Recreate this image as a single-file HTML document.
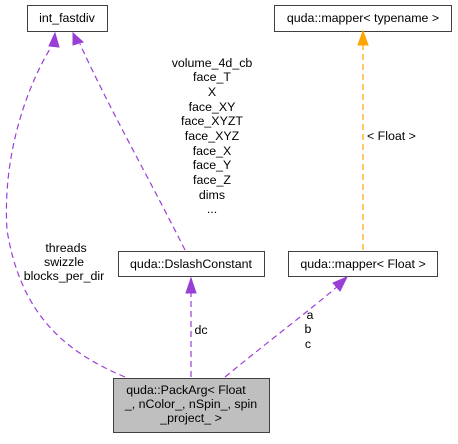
<!DOCTYPE html>
<html><head><style>
body{margin:0;background:#fff;width:458px;height:439px;overflow:hidden;font-family:"Liberation Sans",sans-serif}
</style></head><body>
<svg width="458" height="439" viewBox="0 0 458 439" xmlns="http://www.w3.org/2000/svg" font-family="Liberation Sans, sans-serif" font-size="12.4">
<g fill="#fff" stroke="#404040" stroke-width="1">
<rect x="27.5" y="5.5" width="80" height="26"/>
<rect x="274.5" y="5.5" width="177" height="26"/>
<rect x="118.5" y="251.5" width="146" height="25"/>
<rect x="288.5" y="251.5" width="149" height="25"/>
<rect x="113.5" y="378.5" width="156" height="54" fill="#bfbfbf"/>
</g>
<g fill="none" stroke-dasharray="6,4" stroke-width="1.2">
<path d="M125,377 C60,350 20,310 7,230 C2,150 30,80 53,44" stroke="#9a3fd6"/>
<path d="M185,250 C150,180 110,110 80,44" stroke="#9a3fd6"/>
<path d="M191,377 L191,292" stroke="#9a3fd6"/>
<path d="M225,377 C270,340 310,310 338,286" stroke="#9a3fd6"/>
<path d="M363,250 L363,45" stroke="#ffa500"/>
</g>
<g stroke-width="1">
<polygon points="55,33 49,46 59,47" fill="#9a3fd6" stroke="#9a3fd6"/>
<polygon points="73,33 73,45 83,42" fill="#9a3fd6" stroke="#9a3fd6"/>
<polygon points="191,278 186,293 196,293" fill="#9a3fd6" stroke="#9a3fd6"/>
<polygon points="347,277 333,283 340,291" fill="#9a3fd6" stroke="#9a3fd6"/>
<polygon points="363,31 358,45 368,45" fill="#ffa500" stroke="#ffa500"/>
</g>
<g fill="#000" text-anchor="middle">
<text x="67" y="22">int_fastdiv</text>
<text x="363" y="22">quda::mapper&lt; typename &gt;</text>
<text x="191" y="268">quda::DslashConstant</text>
<text x="363" y="268">quda::mapper&lt; Float &gt;</text>
<text x="186" y="394">quda::PackArg&lt; Float</text>
<text x="191" y="408">_, nColor_, nSpin_, spin</text>
<text x="191" y="422">_project_ &gt;</text>
<text x="212" y="67">volume_4d_cb</text>
<text x="212" y="81">face_T</text>
<text x="212" y="96">X</text>
<text x="212" y="111">face_XY</text>
<text x="212" y="125">face_XYZT</text>
<text x="212" y="140">face_XYZ</text>
<text x="212" y="155">face_X</text>
<text x="212" y="169">face_Y</text>
<text x="212" y="184">face_Z</text>
<text x="212" y="199">dims</text>
<text x="212" y="213">...</text>
<text x="66" y="252">threads</text>
<text x="64" y="266">swizzle</text>
<text x="64" y="280">blocks_per_dir</text>
<text x="201" y="334">dc</text>
<text x="310" y="319">a</text>
<text x="308" y="333">b</text>
<text x="308" y="348">c</text>
</g>
<text x="367" y="140">&lt; Float &gt;</text>
</svg>
</body></html>
